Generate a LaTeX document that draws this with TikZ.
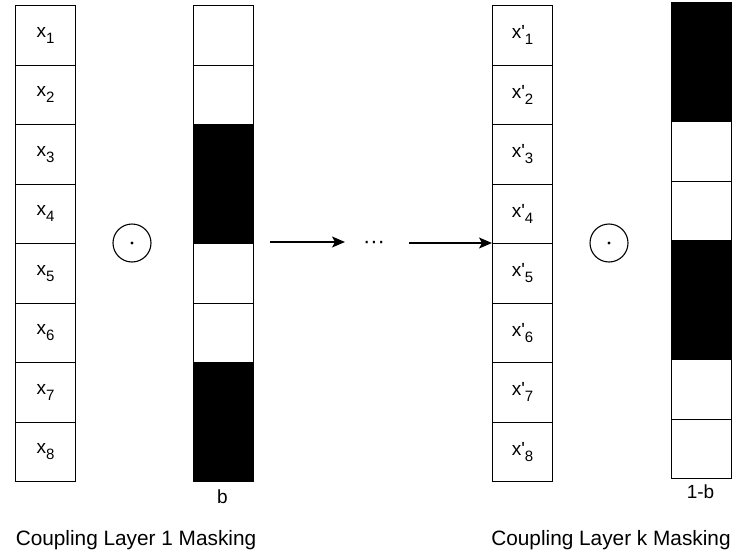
\documentclass[tikz,border=0pt]{standalone}
\usepackage{fontspec}
\setmainfont{Liberation Sans}
\usetikzlibrary{arrows.meta}
\newcommand{\sbs}[1]{\raisebox{-0.3em}{\fontsize{15}{15}\selectfont #1}}
\begin{document}
\begin{tikzpicture}[x=1pt,y=-1pt,
  cell/.style={draw=black,line width=1.1pt,minimum width=60pt,minimum height=59.5pt,inner sep=0pt,anchor=north west,font=\fontsize{19}{19}\selectfont},
  wcell/.style={cell,fill=white},
  bcell/.style={cell,fill=black},
  op/.style={draw=black,line width=1.1pt,circle,minimum size=38pt,inner sep=0pt},
  arr/.style={draw=black,line width=1.2pt,-{Stealth[length=13pt,width=11pt,inset=3pt]}},
  lbl/.style={font=\fontsize{19}{19}\selectfont,inner sep=0pt},
  captext/.style={font=\fontsize{20.8}{21}\selectfont,inner sep=0pt}]
\useasboundingbox (0,0) rectangle (747,554);
% left x column
\foreach \i in {1,...,8}{
  \node[wcell] (x\i) at (15,{5+59.5*(\i-1)}) {x\sbs{\i}};
}
% b mask
\foreach \i/\f in {1/wcell,2/wcell,3/bcell,4/bcell,5/wcell,6/wcell,7/bcell,8/bcell}{
  \node[\f] (b\i) at (193,{5+59.5*(\i-1)}) {};
}
% x' column
\foreach \i in {1,...,8}{
  \node[wcell] (xp\i) at (492,{5+59.5*(\i-1)}) {x\textquotesingle\sbs{\i}};
}
% 1-b mask
\foreach \i/\f in {1/bcell,2/bcell,3/wcell,4/wcell,5/bcell,6/bcell,7/wcell,8/wcell}{
  \node[\f] (c\i) at (670.5,{2+59.5*(\i-1)}) {};
}
% odot operators
\node[op] (op1) at (132,243) {};
\fill (op1.center) circle (1.7pt);
\node[op] (op2) at (609,243) {};
\fill (op2.center) circle (1.7pt);
% arrows and dots
\coordinate (a1s) at (270,242);
\coordinate (a1e) at (345,242);
\node[inner sep=0pt,font=\fontsize{22}{22}\selectfont] (dots) at (374,245) {\textperiodcentered\textperiodcentered\textperiodcentered};
\coordinate (a2s) at (409,243);
\draw[arr] (a1s) -- (a1e);
\draw[arr] (a2s) -- (a2s -| xp4.south west);
% labels
\node[lbl] (lb) at (222.5,497) {b};
\node[lbl] (lc) at (700.5,492) {1-b};
\node[captext] (cap1) at (136,540) {Coupling Layer 1 Masking};
\node[captext] (cap2) at (611,540) {Coupling Layer k Masking};
\end{tikzpicture}
\end{document}
